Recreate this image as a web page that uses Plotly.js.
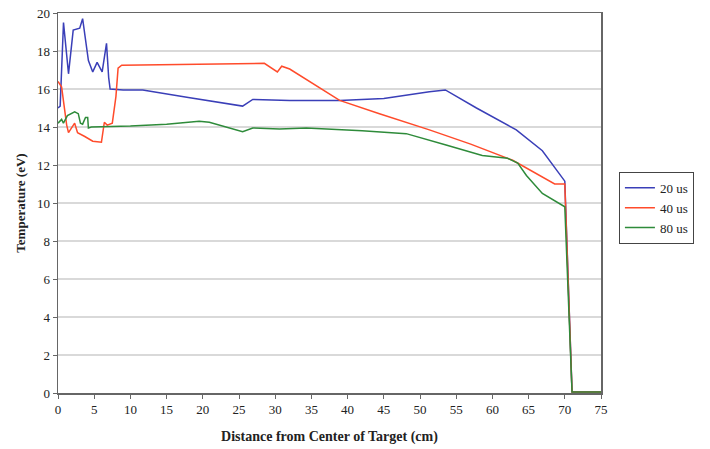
<!DOCTYPE html>
<html>
<head>
<meta charset="utf-8">
<script src="https://cdn.plot.ly/plotly-3.0.1.min.js"></script>
<style>html,body{margin:0;padding:0;background:#fff;}#chart{width:710px;height:449px;}</style>
</head>
<body>
<div id="chart"></div>
<script>
// 20 us
const x20 = [0, 0.3, 0.76, 1.45, 2.1, 3.0, 3.4, 4.2, 4.8, 5.4, 6.1, 6.7, 7.0, 7.2, 9, 11.7, 18, 25.5, 26.9, 32, 38.9, 45, 51.3, 53.5, 57.8, 63.3, 66.9, 70.0, 71.0, 75];
const y20 = [15.0, 15.1, 19.5, 16.8, 19.1, 19.2, 19.7, 17.5, 16.9, 17.4, 16.9, 18.4, 16.6, 16.0, 15.95, 15.95, 15.55, 15.1, 15.45, 15.4, 15.4, 15.5, 15.85, 15.95, 15.0, 13.85, 12.75, 11.15, 0.05, 0.05];
// 40 us
const x40 = [0, 0.5, 1.2, 1.45, 2.3, 2.7, 3.7, 4.8, 6.0, 6.4, 6.8, 7.5, 8.0, 8.3, 8.8, 15, 22, 28.5, 30.3, 30.9, 32.0, 38.9, 44.4, 51.3, 57, 62.8, 68.6, 70.0, 71.0, 75];
const y40 = [16.4, 16.1, 14.1, 13.7, 14.2, 13.7, 13.5, 13.25, 13.2, 14.25, 14.1, 14.2, 15.6, 17.1, 17.25, 17.28, 17.3, 17.35, 16.9, 17.2, 17.05, 15.4, 14.7, 13.85, 13.1, 12.25, 11.0, 11.0, 0.05, 0.05];
// 80 us
const x80 = [0, 0.5, 0.75, 1.3, 2.3, 2.8, 3.1, 3.4, 3.8, 4.1, 4.2, 4.6, 10, 15, 19.5, 20.9, 25.5, 26.9, 30.6, 34.3, 42.0, 48.1, 53.6, 58.6, 62.1, 63.5, 64.7, 66.9, 70.0, 71.0, 75];
const y80 = [14.2, 14.4, 14.2, 14.6, 14.8, 14.7, 14.2, 14.15, 14.5, 14.5, 13.95, 14.0, 14.05, 14.15, 14.3, 14.25, 13.75, 13.95, 13.9, 13.95, 13.8, 13.65, 13.05, 12.5, 12.35, 12.1, 11.45, 10.5, 9.8, 0.05, 0.05];

const seriesNames = ['20 us', '40 us', '80 us'];
const colors = ['#3a3fb8', '#ff4b2b', '#2e8b3a'];
const serif = 'Liberation Serif, Times New Roman, serif';

const traces = [[x20, y20], [x40, y40], [x80, y80]].map((d, i) => ({
  x: d[0], y: d[1], name: seriesNames[i], type: 'scatter', mode: 'lines',
  line: {color: colors[i], width: 1.5}
}));

const layout = {
  width: 710, height: 449,
  margin: {l: 58, r: 109, t: 13, b: 56},
  paper_bgcolor: '#fff', plot_bgcolor: '#fff',
  showlegend: true,
  legend: {x: 1.033, y: 0.582, xanchor: 'left', yanchor: 'top',
    bordercolor: '#444', borderwidth: 1, font: {family: serif, size: 13, color: '#222'},
    tracegroupgap: 0, itemwidth: 30},
  xaxis: {
    range: [0, 75], tick0: 0, dtick: 5, ticks: 'outside', ticklen: 4, tickcolor: '#666',
    showgrid: false, zeroline: false, showline: true, linecolor: '#666', linewidth: 1.5, mirror: true,
    tickfont: {family: serif, size: 13, color: '#222'},
    title: {text: '<b>Distance from Center of Target (cm)</b>', font: {family: serif, size: 14, color: '#222'}, standoff: 15}
  },
  yaxis: {
    range: [0, 20], tick0: 0, dtick: 2, ticks: 'outside', ticklen: 4, tickcolor: '#666',
    showgrid: true, gridcolor: '#d9d9d9', gridwidth: 1.5, zeroline: false, showline: true, linecolor: '#666', linewidth: 1.5, mirror: true,
    tickfont: {family: serif, size: 13, color: '#222'},
    title: {text: '<b>Temperature (eV)</b>', font: {family: serif, size: 13, color: '#222'}, standoff: 8}
  }
};

Plotly.newPlot('chart', traces, layout, {displayModeBar: false, staticPlot: true});
</script>
</body>
</html>
